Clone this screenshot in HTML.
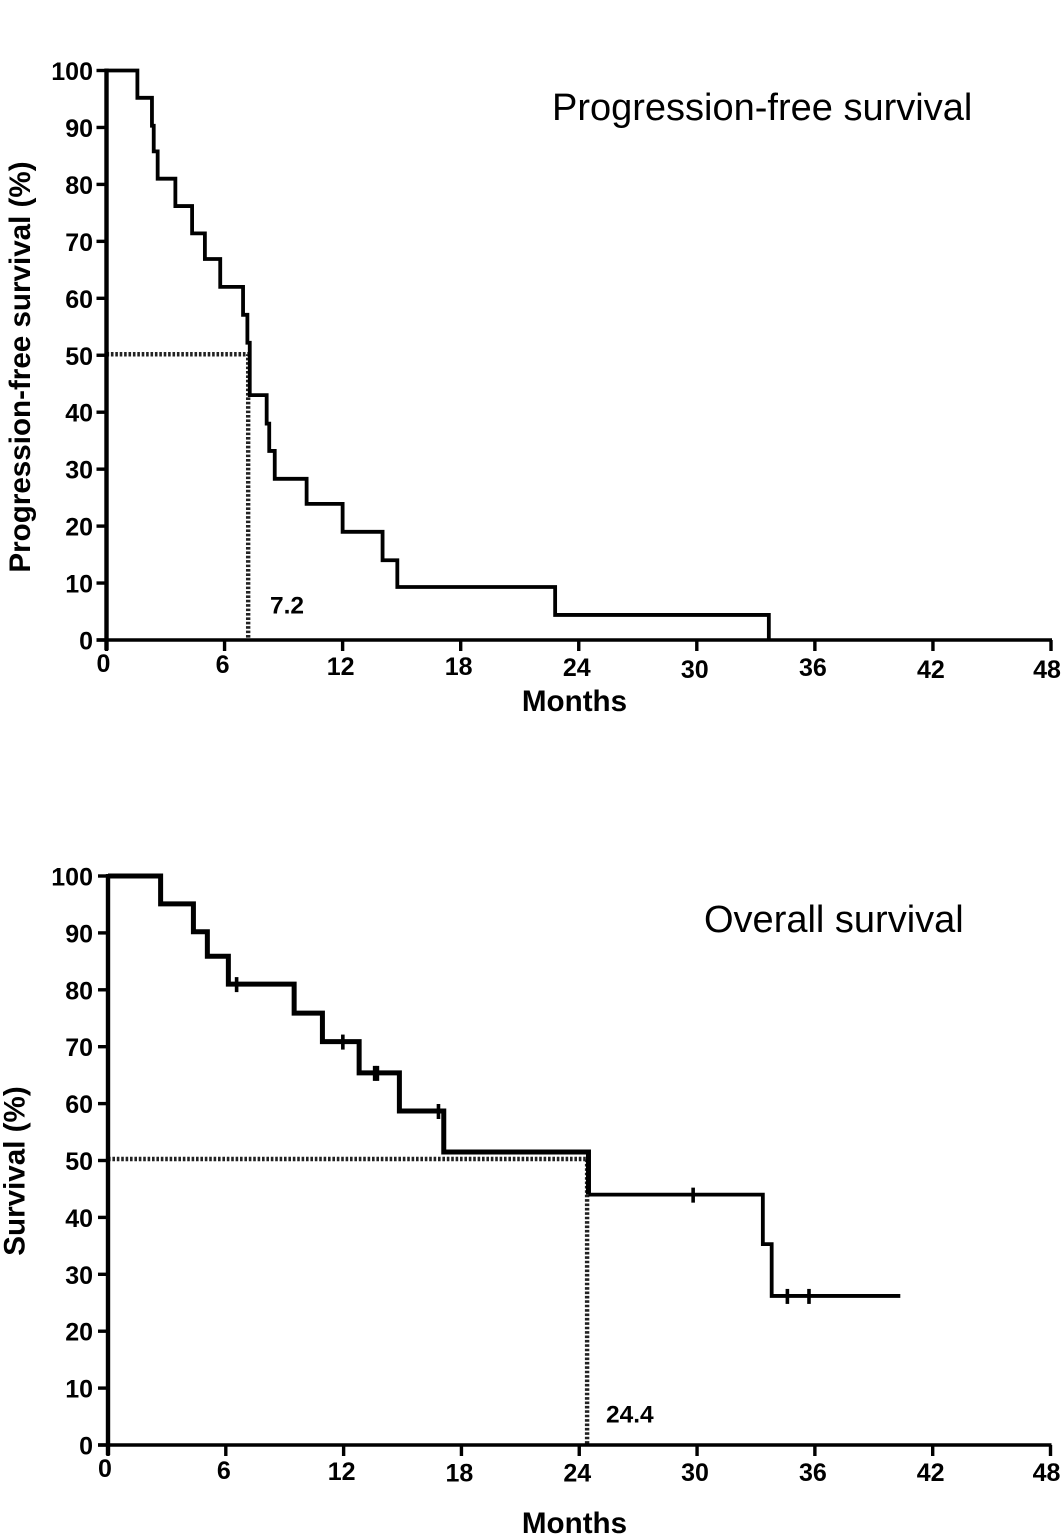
<!DOCTYPE html>
<html>
<head>
<meta charset="utf-8">
<style>
html,body{margin:0;padding:0;background:#fff;width:1063px;height:1535px;overflow:hidden}
svg{display:block;font-family:"Liberation Sans",Arial,sans-serif;filter:blur(0.35px)}
text{fill:#000}
.tick{font-weight:bold;font-size:25px}
.title{font-size:38px}
.axis-title{font-weight:bold;font-size:29.6px}
</style>
</head>
<body>
<svg id="chart" xmlns="http://www.w3.org/2000/svg" width="1063" height="1535" viewBox="0 0 1063 1535"></svg>
<script>
const yTickLabels = [0,10,20,30,40,50,60,70,80,90,100];
const xTickLabels = [0,6,12,18,24,30,36,42,48];

const pfsTimes = [1.57,2.31,2.40,2.60,3.50,4.35,5.00,5.78,6.94,7.16,7.28,8.14,8.27,8.55,10.17,12.00,14.03,14.78,22.80,33.66];
const pfsValues = [95.2,90.3,85.8,81,76.2,71.4,66.9,62,57.1,52.2,43,38,33.2,28.3,23.9,19,14,9.3,4.4,0];
const pfsMedian = 7.2;

const osTimes = [2.68,4.35,5.06,6.13,9.48,10.92,12.79,14.84,17.10,24.47,33.35,33.80];
const osValues = [95.1,90.2,85.9,81,75.9,70.9,65.4,58.7,51.5,44,35.3,26.2];
const osEnd = 40.35;
const osCensored = [6.55,11.96,13.58,13.72,16.83,29.8,34.6,35.7];
const osMedian = 24.4;

const svg = document.getElementById('chart');
const NS = 'http://www.w3.org/2000/svg';

function add(parent, tag, attrs, txt) {
  const el = document.createElementNS(NS, tag);
  for (const k in attrs) el.setAttribute(k, attrs[k]);
  if (txt !== undefined) el.textContent = txt;
  parent.appendChild(el);
  return el;
}

function makeScales(x0, x48, y0, y100) {
  return {
    x: function (t) { return x0 + (x48 - x0) * t / 48; },
    y: function (v) { return y0 + (y100 - y0) * v / 100; }
  };
}

function drawAxes(g, s, axisW, xLabelY, xLabelDy) {
  const yAxis = add(g, 'line', {x1: s.x(0), x2: s.x(0), y1: s.y(100) - 2, y2: s.y(0) + 10, stroke: '#000', 'stroke-width': axisW});
  
  
  const xAxis = add(g, 'line', {x1: s.x(0) - 10, x2: s.x(48) + 1, y1: s.y(0), y2: s.y(0), stroke: '#000', 'stroke-width': 3.4});
  
  
  yTickLabels.forEach(function (v) {
    const tick = add(g, 'line', {x1: s.x(0) - 10, x2: s.x(0), y1: s.y(v), y2: s.y(v), stroke: '#000', 'stroke-width': 3.4});
    
    
    const label = add(g, 'text', {x: 93, y: s.y(v) + 9.5, 'text-anchor': 'end', 'class': 'tick'}, String(v));
    
    
  });
  xTickLabels.forEach(function (t, i) {
    const tick = add(g, 'line', {x1: s.x(t), x2: s.x(t), y1: s.y(0), y2: s.y(0) + 11, stroke: '#000', 'stroke-width': 3.4});
    
    
    const dx = t === 0 ? -3 : (t === 48 ? -4 : -2);
    const label = add(g, 'text', {x: s.x(t) + dx, y: xLabelY + xLabelDy[i], 'text-anchor': 'middle', 'class': 'tick'}, String(t));
    
    
  });
}

function stepPath(s, times, values, startIndex, endIndex, startT, startV) {
  let d = 'M' + s.x(startT) + ' ' + s.y(startV);
  for (let i = startIndex; i < endIndex; i++) {
    d += 'H' + s.x(times[i]) + 'V' + s.y(values[i]);
  }
  return d;
}

function drawMedian(g, s, t, dy) {
  const d = 'M' + s.x(0) + ' ' + (s.y(50) + dy) + 'H' + s.x(t) + 'V' + s.y(0);
  const med = add(g, 'path', {d: d, fill: 'none', stroke: '#222', 'stroke-width': 4.4, 'stroke-dasharray': '2.6 1.8'});
  
  
}

/* Panel 1: progression-free survival */
const g1 = add(svg, 'g', {});


const s1 = makeScales(106.5, 1051, 640, 70.5);
drawMedian(g1, s1, pfsMedian, -1);
drawAxes(g1, s1, 4.4, 675, [-3,-2,0,0,1,3,1,3,3]);
const pfsLine = add(g1, 'path', {d: stepPath(s1, pfsTimes, pfsValues, 0, pfsTimes.length, 0, 100), fill: 'none', stroke: '#000', 'stroke-width': 3.8});


const t1 = add(g1, 'text', {x: 552, y: 120, 'class': 'title'}, 'Progression-free survival');


const m1 = add(g1, 'text', {x: 270, y: 613.5, 'font-weight': 'bold', 'font-size': 24.5}, String(pfsMedian));


const xt1 = add(g1, 'text', {x: 574.5, y: 711, 'text-anchor': 'middle', 'class': 'axis-title'}, 'Months');


const yt1 = add(g1, 'text', {transform: 'translate(30,367) rotate(-90)', 'text-anchor': 'middle', 'class': 'axis-title'}, 'Progression-free survival (%)');



/* Panel 2: overall survival */
const g2 = add(svg, 'g', {});


const s2 = makeScales(108, 1050.5, 1445, 876);
drawMedian(g2, s2, osMedian, -1.5);
drawAxes(g2, s2, 4.4, 1480, [-3,-1,0,1.5,1.5,1,1,1,1]);
const split = osTimes.findIndex(function (t) { return t > osMedian; }) + 1;
const osThick = add(g2, 'path', {d: stepPath(s2, osTimes, osValues, 0, split, 0, 100), fill: 'none', stroke: '#000', 'stroke-width': 5});


const osThin = add(g2, 'path', {d: stepPath(s2, osTimes, osValues, split, osTimes.length, osTimes[split - 1], osValues[split - 1]) + 'H' + s2.x(osEnd), fill: 'none', stroke: '#000', 'stroke-width': 3.8});


osCensored.forEach(function (t) {
  let v = 100;
  osTimes.forEach(function (ot, i) { if (ot <= t) v = osValues[i]; });
  const mark = add(g2, 'line', {x1: s2.x(t), x2: s2.x(t), y1: s2.y(v) - 7, y2: s2.y(v) + 8, stroke: '#000', 'stroke-width': 3.6});
  
  
});
const t2 = add(g2, 'text', {x: 704, y: 932, 'class': 'title'}, 'Overall survival');


const m2 = add(g2, 'text', {x: 606, y: 1422.5, 'font-weight': 'bold', 'font-size': 24.5}, String(osMedian));


const xt2 = add(g2, 'text', {x: 574.5, y: 1533, 'text-anchor': 'middle', 'class': 'axis-title'}, 'Months');


const yt2 = add(g2, 'text', {transform: 'translate(24.5,1171) rotate(-90)', 'text-anchor': 'middle', 'class': 'axis-title'}, 'Survival (%)');


</script>
</body>
</html>
